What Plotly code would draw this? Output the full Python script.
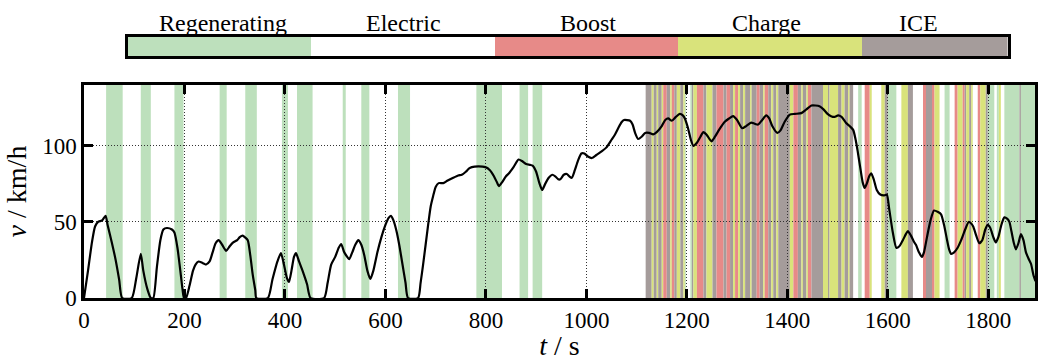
import plotly.graph_objects as go

# ---------------- data ----------------
time_s = [0, 8, 16, 22, 28, 36, 43, 47, 55, 63, 70, 76, 95, 104, 113, 118, 126, 133, 138, 145, 152, 158, 165,
          175, 180, 186, 191, 196, 199, 203, 210, 217, 222, 228, 236, 243, 250, 256, 262, 268, 275, 283, 290,
          297, 305, 310, 316, 320, 326, 331, 336, 341, 343, 366, 375, 385, 392, 398, 404, 408, 413, 418, 422,
          428, 436, 444, 451, 478, 485, 492, 500, 507, 512, 518, 524, 528, 534, 540, 546, 552, 558, 564, 570,
          576, 584, 592, 600, 606, 611, 616, 622, 628, 634, 640, 645, 665, 670, 675, 680, 685, 690, 695, 700,
          706, 715, 723, 735, 745, 752, 760, 766, 772, 785, 799, 808, 816, 822, 826, 832, 840, 846, 855, 865,
          872, 880, 888, 893, 900, 906, 912, 918, 925, 932, 938, 944, 948, 955, 961, 966, 971, 977, 983, 990,
          996, 1003, 1011, 1020, 1031, 1040, 1050, 1057, 1064, 1070, 1075, 1087, 1092, 1097, 1103, 1110, 1117,
          1125, 1133, 1140, 1150, 1157, 1163, 1170, 1178, 1186, 1192, 1196, 1202, 1208, 1213, 1220, 1227, 1233,
          1240, 1249, 1256, 1265, 1276, 1284, 1292, 1300, 1310, 1318, 1328, 1335, 1342, 1350, 1358, 1364, 1370,
          1380, 1386, 1395, 1405, 1415, 1428, 1438, 1448, 1456, 1464, 1472, 1480, 1487, 1494, 1501, 1508, 1517,
          1524, 1531, 1536, 1540, 1545, 1550, 1554, 1558, 1563, 1567, 1572, 1578, 1585, 1593, 1598, 1603, 1610,
          1617, 1623, 1630, 1636, 1640, 1646, 1652, 1656, 1662, 1668, 1672, 1678, 1685, 1692, 1700, 1706, 1712,
          1718, 1722, 1726, 1732, 1739, 1746, 1754, 1761, 1766, 1770, 1776, 1782, 1788, 1794, 1799, 1804, 1810,
          1815, 1820, 1826, 1832, 1838, 1842, 1846, 1851, 1855, 1860, 1865, 1870, 1875, 1880, 1885, 1890, 1894]
speed_kmh = [0, 18, 37, 47, 50, 51, 54, 48, 37, 25, 12, 0, 0, 13, 29, 18, 6, 0, 0, 20, 38, 45, 46,
             45, 43, 33, 20, 6, 0, 0, 8, 18, 22, 24, 23, 22, 24, 30, 36, 38, 35, 31, 34,
             36.5, 38, 40, 41, 40, 38, 28, 15, 5, 0, 0, 12, 24, 29.5, 22, 13, 10.5, 18, 27, 29.5,
             24, 17, 9, 0, 0, 10, 22, 27, 33, 35.5, 30, 27, 25.5, 30, 35, 38, 35, 28, 18, 12.5,
             18, 30, 40, 48, 52.5, 54, 51, 44, 34, 22, 10, 0, 0, 10, 22, 35, 48, 60, 67, 73,
             75.5, 75.5, 77, 79, 80.5, 81, 83, 85, 86, 86.5, 86, 84, 80, 76, 73.5, 76, 80, 82, 86, 91,
             90, 88, 87.5, 87, 83, 76, 71, 75, 79, 81, 80, 78, 78, 81, 81.5, 80, 79, 84, 90, 95,
             95, 93, 92, 94, 96.5, 99, 104, 107.5, 112, 115.5, 117, 116.5, 114, 108.5, 104.5, 106, 108.5,
             108.5, 107.5, 109, 113, 117, 118, 116.5, 119, 121, 120, 118, 112, 104, 100, 102, 106, 109,
             107, 103, 106, 111, 116, 118, 119.5, 117, 111.6, 113, 115.3, 114.5, 114, 117, 120, 118, 113,
             108.5, 110, 116, 120.5, 121, 121.5, 124, 126.5, 126.5, 126, 124, 121, 119.5, 119, 120, 119, 115,
             113, 110.5, 104, 96.5, 86, 76, 72.3, 75, 80, 82, 78, 71, 68, 67.5, 68, 58, 43,
             33, 34, 38, 42, 44, 41, 37, 35, 30, 27, 30, 40, 51, 57.5, 56.5, 55, 48,
             38, 32, 29, 30, 33, 38, 45, 50, 49, 47, 41, 36, 38, 45, 48, 46, 40,
             36.5, 40, 48, 53, 52, 50, 44, 36, 32, 36, 42, 38, 30, 26, 22.5, 15, 11]

# operating-mode intervals (s); modes: R=Regenerating, B=Boost, C=Charge, I=ICE (Electric = white)
band_start = [44, 113, 180, 270, 321, 394, 424, 515, 552, 625, 781, 867, 893,
              1118, 1130, 1134, 1140, 1143, 1150, 1153, 1160, 1167, 1170, 1175, 1180, 1187, 1193, 1196,
              1207, 1210, 1213, 1220, 1233, 1239, 1251, 1259, 1273, 1279, 1286, 1292, 1296, 1302, 1306,
              1312, 1316, 1326, 1329, 1339, 1345, 1352, 1355, 1362, 1368, 1372, 1378, 1382, 1405, 1412,
              1421, 1428, 1431, 1438, 1441, 1448, 1471, 1481, 1484, 1501, 1508, 1514, 1521, 1524,
              1541, 1554, 1564, 1587, 1594, 1600, 1627, 1640, 1670, 1676, 1688, 1693, 1713, 1733, 1739,
              1749, 1753, 1756, 1762, 1766, 1779, 1784, 1795, 1799, 1817, 1821, 1832, 1862, 1865]
band_end = [77, 133, 198, 284, 344, 406, 455, 521, 568, 649, 832, 884, 912,
            1130, 1134, 1140, 1143, 1150, 1153, 1160, 1167, 1170, 1175, 1180, 1187, 1193, 1196, 1198,
            1210, 1213, 1220, 1233, 1239, 1251, 1259, 1273, 1279, 1286, 1292, 1296, 1302, 1306, 1312,
            1316, 1326, 1329, 1339, 1345, 1352, 1355, 1362, 1368, 1372, 1378, 1382, 1405, 1412, 1421,
            1428, 1431, 1438, 1441, 1448, 1471, 1481, 1484, 1501, 1508, 1514, 1521, 1524, 1531,
            1548, 1564, 1568, 1594, 1600, 1617, 1640, 1650, 1676, 1688, 1693, 1703, 1723, 1739, 1749,
            1753, 1756, 1762, 1766, 1769, 1784, 1795, 1799, 1812, 1821, 1825, 1862, 1865, 1900]
band_mode = ["R"] * 13 + [
    "I", "C", "I", "C", "I", "C", "B", "I", "C", "B", "I", "C", "I", "C", "R",
    "R", "I", "C", "B", "I", "C", "I", "B", "I", "B", "I", "C", "B", "C", "I",
    "C", "I", "C", "I", "B", "I", "C", "B", "I", "C", "I", "C", "I", "C", "B",
    "I", "C", "I", "C", "B", "I", "C", "I", "C", "I", "C", "I", "C", "I",
    "R", "B", "C", "C", "I", "R", "C", "I", "B", "I", "B", "C", "R", "B", "C",
    "B", "I", "C", "I", "C", "B", "C", "I", "R", "R", "C", "R", "I", "R"]

# colour key (segment widths in key units, label positions in key units)
legend_codes = ["R", "E", "B", "C", "I"]
legend_names = ["Regenerating", "Electric", "Boost", "Charge", "ICE"]
legend_width = [1, 1, 1, 1, 0.795]
legend_label_pos = [0.52, 1.5, 2.51, 3.48, 4.31]

x_ticks = [0, 200, 400, 600, 800, 1000, 1200, 1400, 1600, 1800]
y_ticks = [0, 50, 100]

# ---------------- style ----------------
mode_color = {"R": "#bde0bc", "E": "#ffffff", "B": "#e78a88", "C": "#d9e37b", "I": "#a59c9b"}
FONT = "Liberation Serif"
FS = 23

fig = go.Figure()

shapes = []
for s, e, m in zip(band_start, band_end, band_mode):
    shapes.append(dict(type="rect", xref="x", yref="y domain", x0=s, x1=e, y0=0, y1=1,
                       fillcolor=mode_color[m], line_width=0, layer="below"))

fig.add_trace(go.Scatter(x=time_s, y=speed_kmh, mode="lines",
                         line=dict(color="black", width=2.2, shape="spline", smoothing=0.6),
                         showlegend=False, hoverinfo="skip"))

# colour key bar
bases = []
acc = 0
for w in legend_width:
    bases.append(acc)
    acc += w
fig.add_trace(go.Bar(x=legend_width, base=bases,
                     y=[0] * len(legend_codes), orientation="h", width=1,
                     marker=dict(color=[mode_color[c] for c in legend_codes], line_width=0),
                     xaxis="x2", yaxis="y2", showlegend=False, hoverinfo="skip"))

annotations = []
for pos, name in zip(legend_label_pos, legend_names):
    annotations.append(dict(text=name, x=pos, xref="x2", y=0.874, yref="paper",
                            yanchor="bottom", xanchor="center", showarrow=False,
                            font=dict(family=FONT, size=24, color="black")))

grid = dict(showgrid=True, gridcolor="#333333", griddash="1px,2px", gridwidth=1, zeroline=False)

fig.update_layout(
    width=1038, height=361,
    margin=dict(l=84, r=1, t=0, b=63),
    paper_bgcolor="white", plot_bgcolor="white",
    font=dict(family=FONT, size=FS, color="black"),
    shapes=shapes, annotations=annotations,
    xaxis=dict(range=[0, 1893], tickvals=x_ticks, ticks="inside", ticklen=9, tickwidth=2.5,
               tickcolor="black", showline=True, linewidth=2.5, linecolor="black", mirror="ticks",
               title=dict(text="<i>t</i> / s", standoff=6), domain=[0, 1], **grid),
    yaxis=dict(range=[0, 140], tickvals=y_ticks, ticks="inside", ticklen=9, tickwidth=2.5,
               tickcolor="black", showline=True, linewidth=2.5, linecolor="black", mirror="ticks",
               title=dict(text="<i>v</i> / km/h", standoff=8), domain=[0, 0.7148], **grid),
    xaxis2=dict(range=[0, sum(legend_width)], domain=[0.0462, 0.9711], anchor="y2",
                showticklabels=False, ticks="", showgrid=False, zeroline=False, showline=True,
                linewidth=2.5, linecolor="black", mirror=True),
    yaxis2=dict(range=[-0.5, 0.5], domain=[0.8121, 0.8758], anchor="x2", showticklabels=False,
                ticks="", showgrid=False, zeroline=False, showline=True, linewidth=2.5,
                linecolor="black", mirror=True),
    bargap=0,
)

fig.write_html("out.html")
